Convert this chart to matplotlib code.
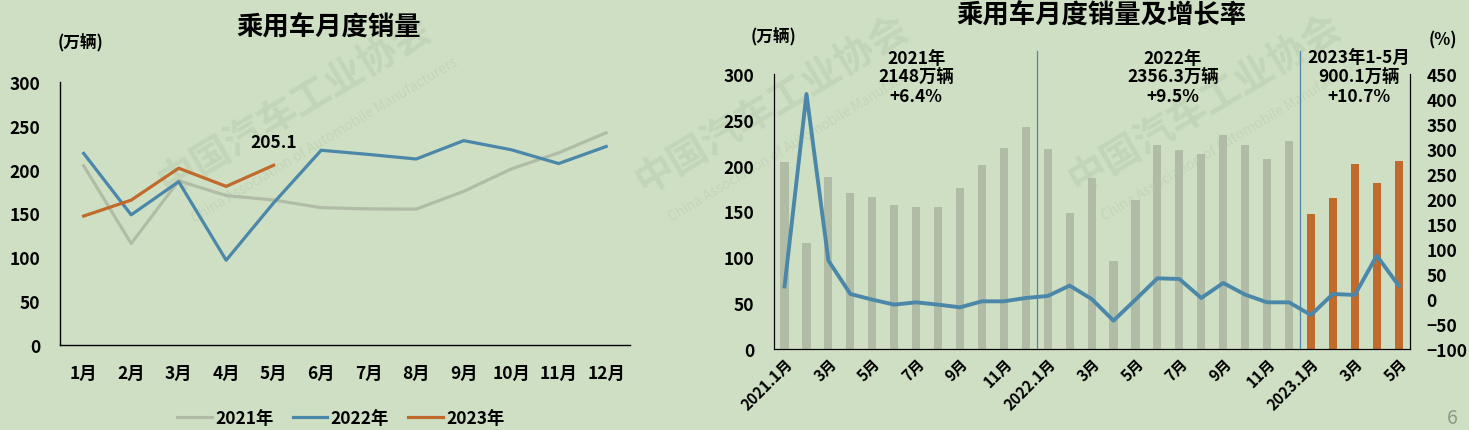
import matplotlib
matplotlib.use("Agg")
from matplotlib import pyplot as plt
import numpy as np

# data (万辆 / %)
months = ["1月", "2月", "3月", "4月", "5月", "6月", "7月", "8月", "9月", "10月", "11月", "12月"]
sales_2021 = [204.5, 115.6, 187.3, 170.4, 165.3, 156.6, 155.2, 154.9, 175.2, 200.8, 219.3, 242.2]
sales_2022 = [218.6, 148.4, 186.3, 96.5, 162.1, 222.2, 217.4, 212.2, 233.2, 222.8, 207.0, 226.5]
sales_2023 = [147.0, 165.2, 201.7, 180.9, 205.1]
growth = [25.0, 410.0, 76.7, 10.0, -1.3, -11.3, -6.7, -11.3, -16.7, -4.7, -4.7, 2.0,
          6.0, 26.7, 0.0, -43.3, -1.3, 41.3, 40.0, 2.0, 32.0, 8.7, -6.7, -6.7,
          -32.0, 10.0, 8.0, 86.7, 26.7]
period_labels = ["2021年\n2148万辆\n+6.4%", "2022年\n2356.3万辆\n+9.5%", "2023年1-5月\n900.1万辆\n+10.7%"]
period_pos = [6.0, 17.7, 26.2]

# colors
bg = "#cfdfc4"
c2021 = "#b1bca6"
c2022 = "#4b87a9"
c2023 = "#c06a2b"

plt.rcParams['font.family'] = ['Noto Sans CJK SC', 'DejaVu Sans']
plt.rcParams['font.weight'] = 'bold'

fig = plt.figure(figsize=(14.69, 4.31), dpi=100, facecolor=bg)

# faint watermark in a background axes
axw = fig.add_axes([0, 0, 1, 1], zorder=-1)
axw.set_axis_off()
axw.set_xlim(0, 1469)
axw.set_ylim(431, 0)
wm_color = "#c3d5b9"
for cx, cy in [(295, 106), (772, 105), (1205, 104)]:
    axw.text(cx, cy, "中国汽车工业协会", fontsize=28, color=wm_color, rotation=31,
             ha='center', va='center')
    axw.text(cx + 30, cy + 34, "China Association of Automobile Manufacturers", fontsize=10,
             color=wm_color, rotation=31, ha='center', va='center', weight='normal')

# ---------- left chart ----------
ax1 = fig.add_axes([0.0408, 0.198, 0.388, 0.609])
ax1.set_facecolor('none')
x12 = np.arange(len(months))
ax1.plot(x12, sales_2021, color=c2021, lw=2.3, label="2021年", zorder=2)
ax1.plot(x12, sales_2022, color=c2022, lw=2.3, label="2022年", zorder=3)
ax1.plot(x12[:len(sales_2023)], sales_2023, color=c2023, lw=2.3, label="2023年", zorder=4)
ax1.annotate("%.1f" % sales_2023[-1], (x12[len(sales_2023) - 1], sales_2023[-1]),
             xytext=(0, 16.5), textcoords='offset points', ha='center', va='center', fontsize=12.5)
ax1.set_xlim(-0.5, 11.5)
ax1.set_ylim(0, 300)
ax1.set_yticks(range(0, 301, 50))
ax1.set_xticks(x12)
ax1.set_xticklabels(months)
ax1.tick_params(axis='both', length=0, labelsize=12.5)
ax1.tick_params(axis='x', pad=14)
ax1.tick_params(axis='y', pad=14)
ax1.spines['right'].set_visible(False)
ax1.spines['top'].set_visible(False)
for s in ['left', 'bottom']:
    ax1.spines[s].set_linewidth(1.0)
fig.text(58 / 1469, 1 - 43 / 431, "(万辆)", fontsize=12, ha='left', va='center')
fig.text(0.224, 0.936, "乘用车月度销量", fontsize=19, ha='center', va='center')
ax1.legend(loc='center', bbox_to_anchor=(0.232, 0.027), bbox_transform=fig.transFigure,
           ncol=3, frameon=False, fontsize=12.5, handlelength=2.0, columnspacing=1.1,
           handletextpad=0.2)

# ---------- right chart ----------
ax2 = fig.add_axes([0.5266, 0.188, 0.433, 0.638])
ax2.set_facecolor('none')
n = len(growth)
xm = np.arange(n)
bar_vals = sales_2021 + sales_2022 + sales_2023
bar_cols = [c2021] * 24 + [c2023] * 5
ax2.bar(xm, bar_vals, width=0.37, color=bar_cols, zorder=2)
ax2.set_xlim(-0.5, n - 0.5)
ax2.set_ylim(0, 300)
ax2.set_yticks(range(0, 301, 50))
tick_names = []
for i in range(n):
    year = 2021 + i // 12
    m = i % 12 + 1
    if m == 1:
        tick_names.append("%d.1月" % year)
    else:
        tick_names.append("%d月" % m)
ax2.set_xticks(xm[::2])
ax2.set_xticklabels(tick_names[::2], rotation=45, ha='right', rotation_mode='anchor', fontsize=11)
ax2.tick_params(axis='both', length=0)
ax2.tick_params(axis='y', labelsize=12.5, pad=14)
ax2.tick_params(axis='x', pad=4)
ax2.spines['top'].set_visible(False)

ax3 = ax2.twinx()
ax3.plot(xm, growth, color=c2022, lw=2.8, zorder=5)
ax3.set_ylim(-100, 450)
ax3.set_yticks(range(-100, 451, 50))
ax3.tick_params(axis='y', length=0, labelsize=12.5, pad=12)
ax3.spines['top'].set_visible(False)

for xs in [11.5, 23.5]:
    ax2.axvline(xs, ymin=0.0, ymax=1.084, color="#4f86a8", lw=0.9, clip_on=False, zorder=3)

for xp, txt in zip(period_pos, period_labels):
    ax2.text(xp, 1.09, txt, transform=ax2.get_xaxis_transform(), ha='center', va='top',
             fontsize=12.5, linespacing=1.05)

fig.text(751 / 1469, 1 - 37 / 431, "(万辆)", fontsize=12, ha='left', va='center')
fig.text(1443 / 1469, 1 - 40 / 431, "(%)", fontsize=12, ha='center', va='center')
fig.text(0.75, 0.962, "乘用车月度销量及增长率", fontsize=19, ha='center', va='center')

fig.text(0.9885, 0.03, "6", fontsize=14, color="#8c9a88", weight='normal', ha='center', va='center')

fig.savefig("out.png", dpi=100, facecolor=bg)
